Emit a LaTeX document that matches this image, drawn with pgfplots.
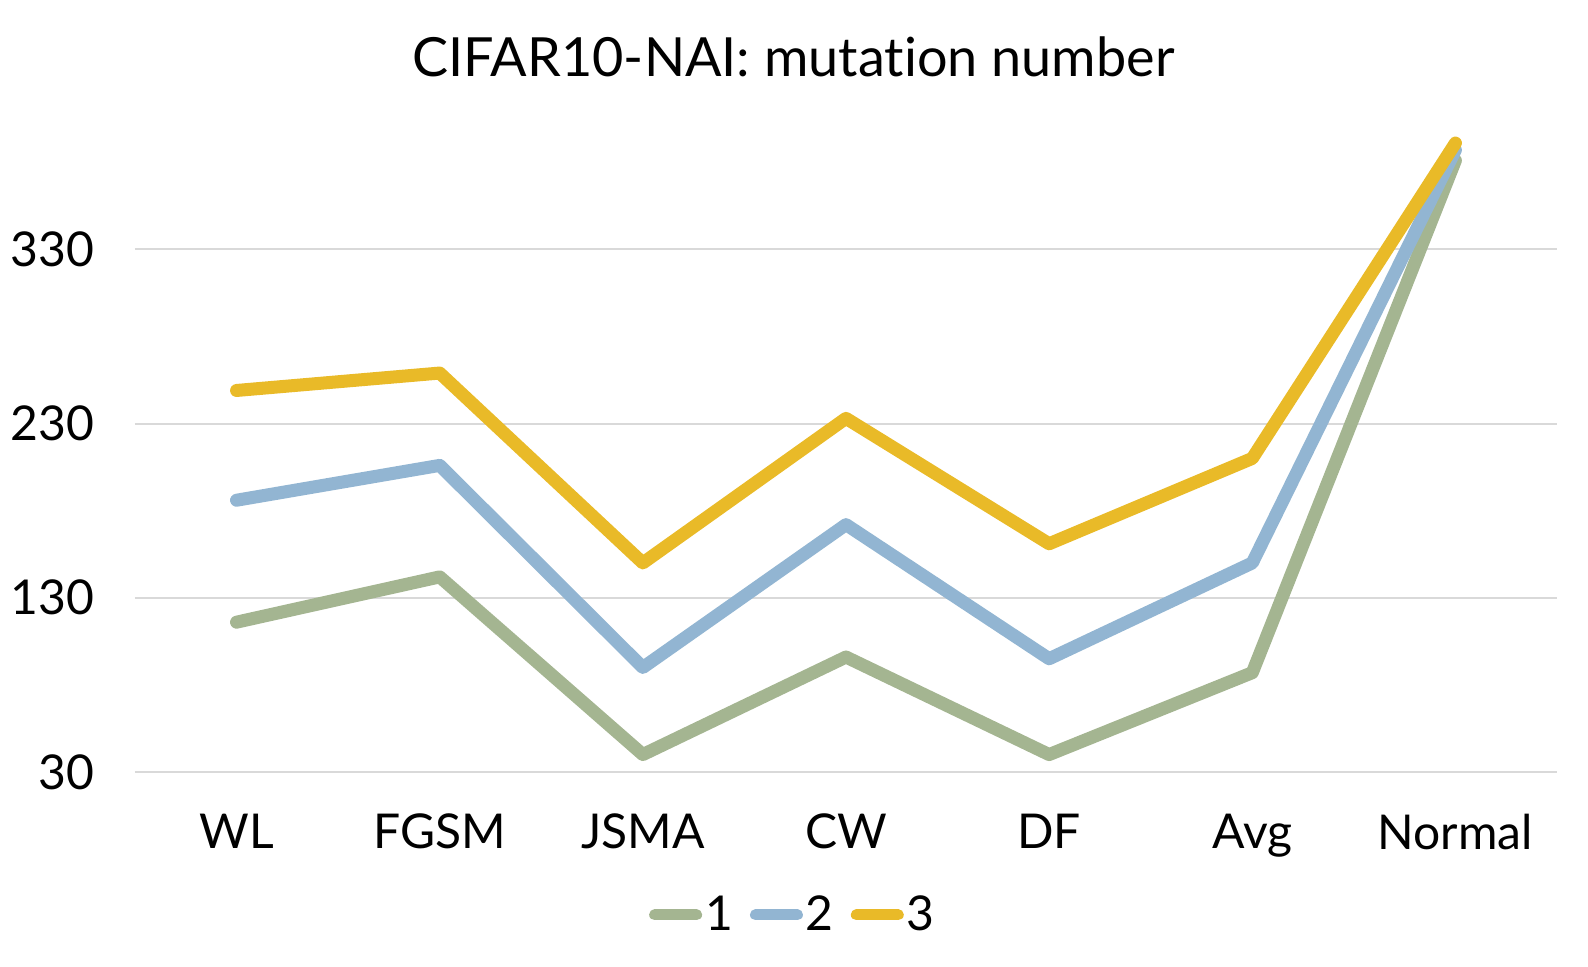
\documentclass[border=0pt]{standalone}
\usepackage{fontspec}
\setmainfont{Lato}[Ligatures={NoCommon,NoRare}]
\usepackage{pgfplots}
\pgfplotsset{compat=1.18}

\definecolor{serA}{RGB}{164,181,145}
\definecolor{serB}{RGB}{146,181,210}
\definecolor{serC}{RGB}{233,186,40}
\definecolor{gridgray}{RGB}{217,217,217}

\begin{document}
\begin{tikzpicture}
\begin{axis}[
  at={(0,0)}, anchor=south west,
  scale only axis,
  width=711pt, height=331pt,
  xmin=-0.5, xmax=6.5,
  ymin=30, ymax=410,
  clip=false,
  axis line style={draw=none},
  tick style={draw=none},
  xtick={0,1,2,3,4,5,6},
  xticklabels={WL,FGSM,JSMA,CW,DF,Avg,Normal},
  ytick={30,130,230,330},
  ymajorgrids,
  grid style={gridgray, line width=1pt},
  /pgf/number format/assume math mode=true,
  ticklabel style={font=\fontsize{24}{28}\selectfont, text=black},
  yticklabel style={xshift=-17pt},
  xticklabel style={yshift=-17.5pt},
  title={CIFAR10-NAI: mutation number},
  title style={font=\fontsize{27}{32}\selectfont, at={(0.463,1)}, yshift=7pt},
  legend columns=3,
  legend style={draw=none, at={(0.463,-0.216)}, anchor=center,
    font=\fontsize{24}{28}\selectfont,
    nodes={inner xsep=1.5pt},
    /tikz/every even column/.append style={column sep=7pt}},
  legend image code/.code={
    \draw[#1, line width=5.5pt, line cap=round] (0pt,0pt) -- (21pt,0pt);
  },
  every axis plot/.append style={line width=6.5pt, line cap=round, line join=round, mark=none},
]
\addplot[serA] coordinates {(0,116) (1,142) (2,40) (3,96) (4,40) (5,87) (6,381)};
\addlegendentry{1}
\addplot[serB] coordinates {(0,186) (1,206) (2,90) (3,172) (4,95) (5,150) (6,387)};
\addlegendentry{2}
\addplot[serC] coordinates {(0,249) (1,259) (2,150) (3,233) (4,161) (5,210) (6,391)};
\addlegendentry{3}
\end{axis}
\path (-67.5pt,-97.5pt) rectangle (726.5pt,386pt);
\end{tikzpicture}
\end{document}
